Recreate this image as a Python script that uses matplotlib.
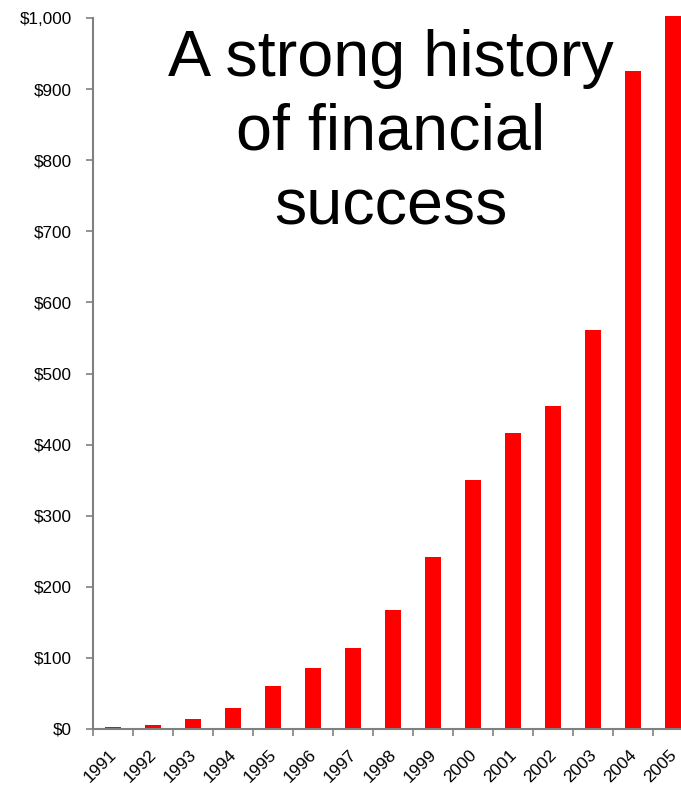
import matplotlib.pyplot as plt
import matplotlib.transforms as mtransforms
from matplotlib.ticker import FuncFormatter

years = ["1991", "1992", "1993", "1994", "1995", "1996", "1997", "1998",
         "1999", "2000", "2001", "2002", "2003", "2004", "2005"]
values = [3, 6, 14, 30, 61, 86, 114, 167, 242, 350, 416, 454, 561, 925, 1003]

plt.rcParams['font.family'] = ['Liberation Sans', 'DejaVu Sans']

fig = plt.figure(figsize=(6.81, 7.89), dpi=100)
# axes runs past the right edge of the figure, like the source slide
ax = fig.add_axes([93 / 681, 60 / 789, 600 / 681, 711 / 789])

x = list(range(len(years)))
bars = ax.bar(x, values, width=0.42, color='#ff0000', linewidth=0)
for b in bars:
    b.set_clip_on(False)

ax.set_xlim(-0.5, len(years) - 0.5)
ax.set_ylim(0, 1000)
ax.set_yticks(range(0, 1001, 100))
ax.yaxis.set_major_formatter(FuncFormatter(lambda v, p: f"${v:,.0f}"))

ax.set_xticks(x)
ax.set_xticklabels(years, rotation=45, ha='right', va='top', rotation_mode='anchor')
ax.set_xticks([i - 0.5 for i in range(len(years) + 1)], minor=True)
ax.tick_params(axis='x', which='major', length=0, pad=13, labelsize=12.5)
ax.tick_params(axis='x', which='minor', length=5, width=1.2, color='#808080', direction='out')
ax.tick_params(axis='y', length=5, width=1.2, color='#808080', labelsize=12.3, pad=10)

# nudge year labels a little to the left
shift = mtransforms.ScaledTranslation(-4 / 100, 0, fig.dpi_scale_trans)
for lbl in ax.get_xticklabels():
    lbl.set_transform(lbl.get_transform() + shift)

for s in ['top', 'right']:
    ax.spines[s].set_visible(False)
for s in ['left', 'bottom']:
    ax.spines[s].set_color('#808080')
    ax.spines[s].set_linewidth(1.5)

fig.text(391 / 681, 1 - 133 / 789, "A strong history\nof financial\nsuccess",
         ha='center', va='center', fontsize=46.5, linespacing=1.3, color='black')

fig.savefig("out.png", dpi=100)
